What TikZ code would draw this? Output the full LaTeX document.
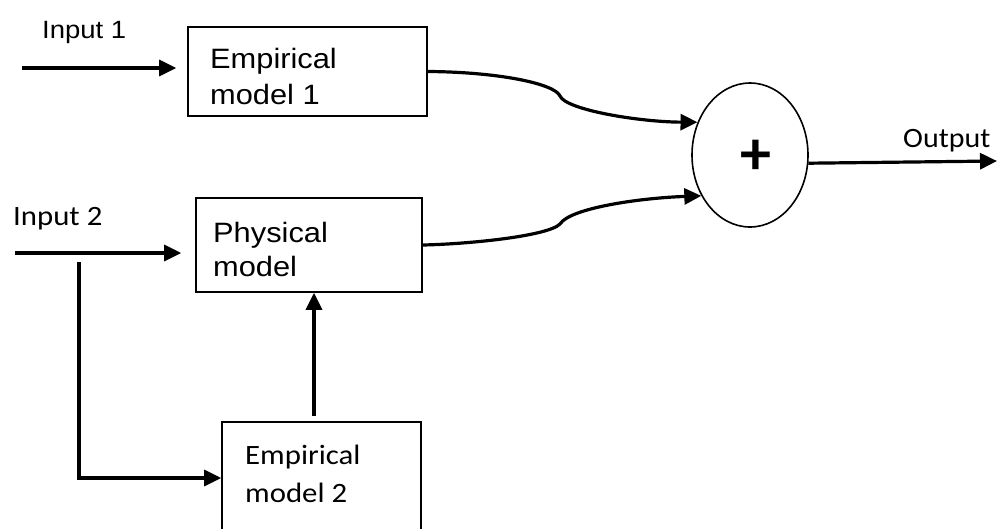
\documentclass[tikz,border=0pt]{standalone}
\usepackage{fontspec}
\setmainfont{Liberation Sans}
\newfontfamily\calib{Carlito}
\usetikzlibrary{arrows.meta,shapes.geometric}
\newcommand{\hstr}[1]{\scalebox{1.1}[1]{#1}}
\tikzset{
  box/.style={draw, line width=1.6pt, rectangle, inner sep=0pt},
  lbl/.style={inner sep=0pt, align=left},
  conn/.style={line width=3.2pt, -{Triangle[length=17pt,width=16pt]}},
}
\begin{document}
\begin{tikzpicture}[x=1pt,y=-1pt]
\useasboundingbox (0,0) rectangle (997,528);
\clip (0,0) rectangle (997,528);
% boxes
\node[box, minimum width=239pt, minimum height=89pt] (emp1) at (307.5,71.5) {};
\node[box, minimum width=226pt, minimum height=94pt] (phys) at (309,245) {};
\node[box, minimum width=199pt, minimum height=140pt] (emp2) at (321.5,492) {};
\node[draw, line width=1.6pt, ellipse, inner sep=0pt, minimum width=116pt, minimum height=144pt] (sum) at (750,155) {};
% texts
\node[lbl, anchor=north west, font=\fontsize{28}{36}\selectfont] (t1) at (210,48) {\hstr{Empirical}\\\hstr{model 1}};
\node[lbl, anchor=north west, font=\fontsize{28}{34}\selectfont] (t2) at (213,222) {\hstr{Physical}\\\hstr{model}};
\node[lbl, anchor=north west, font=\calib\fontsize{28}{38}\selectfont] (t3) at (245,445) {\hstr{Empirical}\\\hstr{model 2}};
\node[lbl, anchor=base west, font=\fontsize{25}{30}\selectfont] (in1t) at (42,38) {\hstr{Input 1}};
\node[lbl, anchor=base west, font=\calib\fontsize{28}{34}\selectfont] (in2t) at (13,225) {\hstr{Input 2}};
\node[lbl, anchor=base west, font=\calib\fontsize{28}{34}\selectfont] (outt) at (903,147) {\scalebox{1.07}[1]{Output}};
\node[inner sep=0pt, font=\calib\bfseries\fontsize{62}{70}\selectfont] (plus) at (756,157) {+};
% coordinates
\coordinate (in1) at (22,68);
\coordinate (in2) at (15,253);
\coordinate (split) at (79,262);
\coordinate (corner) at (79,478);
\coordinate (out) at (997,161);
% connectors
\draw[conn, shorten >=11pt] (in1) -- (in1 -| emp1.west);
\draw[conn, shorten >=14pt] (in2) -- (in2 -| phys.west);
\draw[conn] (split) -- (corner) -- (corner -| emp2.west);
\draw[conn, shorten <=5pt] (emp2.north -| 314,0) -- (phys.south -| 314,0);
\draw[conn] (emp1.east) .. controls (500,72) and (555,84) .. (560,96)
   .. controls (566,110) and (640,122) .. (sum.148);
\draw[conn] (phys.east) .. controls (470,244) and (548,236) .. (560,224)
   .. controls (570,208) and (640,198) .. (sum.220);
\draw[conn] (sum.-8) -- (out);
\end{tikzpicture}
\end{document}
